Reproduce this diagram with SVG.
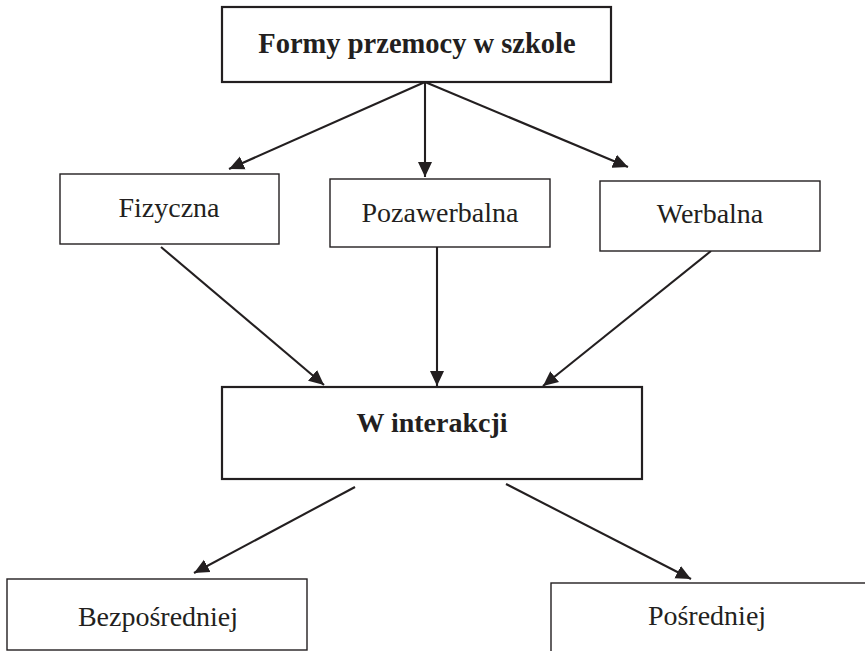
<svg xmlns="http://www.w3.org/2000/svg" width="865" height="651" viewBox="0 0 865 651">
<defs>
<style>
.box{fill:#fff;stroke:#231f20;stroke-width:1.4}
.bbox{fill:#fff;stroke:#231f20;stroke-width:2.2}
.t{font-family:"Liberation Serif","Times New Roman",serif;font-size:28px;fill:#231f20;text-anchor:middle}
.b{font-weight:bold}
.c{stroke:#231f20;stroke-width:2.1;fill:none;marker-end:url(#ah)}
</style>
<marker id="ah" markerUnits="userSpaceOnUse" markerWidth="16" markerHeight="15" refX="15" refY="7.5" orient="auto" viewBox="0 0 16 15">
<path d="M0,0.5 L15,7.5 L0,14.5 z" fill="#231f20"/>
</marker>
</defs>
<rect width="865" height="651" fill="#fff"/>
<g id="connectors">
<line class="c" x1="425" y1="82" x2="229" y2="169"/>
<line class="c" x1="425" y1="82" x2="425" y2="177"/>
<line class="c" x1="425" y1="82" x2="628" y2="167"/>
<line class="c" x1="161" y1="247" x2="324" y2="385"/>
<line class="c" x1="437" y1="247" x2="437" y2="386"/>
<line class="c" x1="711" y1="251" x2="543" y2="386"/>
<line class="c" x1="355" y1="487" x2="194" y2="573"/>
<line class="c" x1="506" y1="484" x2="691" y2="579"/>
</g>
<g id="formy">
<rect class="bbox" x="222" y="7" width="389" height="75"/>
<text class="t b" x="417" y="53" style="font-size:28.5px">Formy przemocy w szkole</text>
</g>
<g id="fizyczna">
<rect class="box" x="60" y="174" width="219" height="70"/>
<text class="t" x="169" y="217">Fizyczna</text>
</g>
<g id="pozawerbalna">
<rect class="box" x="330" y="179" width="220" height="68"/>
<text class="t" x="440" y="222">Pozawerbalna</text>
</g>
<g id="werbalna">
<rect class="box" x="600" y="181" width="220" height="70"/>
<text class="t" x="710" y="223">Werbalna</text>
</g>
<g id="winterakcji">
<rect class="bbox" x="222" y="387" width="420" height="92"/>
<text class="t b" x="432" y="432">W interakcji</text>
</g>
<g id="bezposredniej">
<rect class="box" x="7" y="579" width="300" height="71"/>
<text class="t" x="158" y="626">Bezpośredniej</text>
</g>
<g id="posredniej">
<rect class="box" x="551" y="583" width="320" height="80"/>
<text class="t" x="707" y="625">Pośredniej</text>
</g>
</svg>
